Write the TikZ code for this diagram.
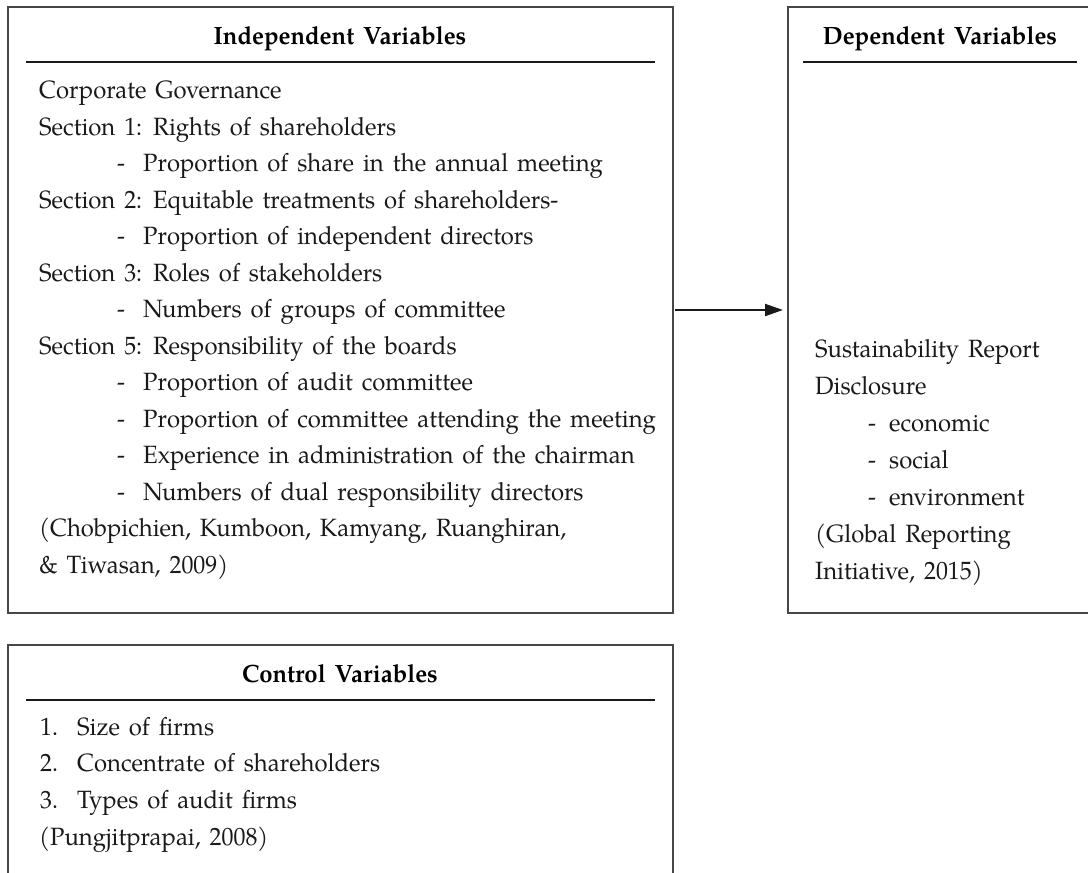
\documentclass[tikz,border=0pt]{standalone}
\usepackage{fontspec}
\setmainfont{TeX Gyre Pagella}[WordSpace=1.5,FakeStretch=0.955]
\usetikzlibrary{arrows.meta}
\begin{document}
\begin{tikzpicture}[x=1pt,y=-1pt,
  box/.style={draw=black!72, line width=1.4pt, anchor=north west, inner sep=0pt, outer sep=0pt},
  ttl/.style={font=\fontsize{25}{30}\selectfont\bfseries, anchor=base, inner sep=0pt},
  txt/.style={font=\fontsize{25}{30}\selectfont, anchor=base west, inner sep=0pt, text=black!90},
  hrule/.style={line width=1.4pt, black!90},
  arr/.style={line width=2pt, black!90, -{Triangle[length=18pt,width=12pt]}, shorten <=2pt, shorten >=5pt}]
\useasboundingbox (0,0) rectangle (1088,873);
\fill[white] (0,0) rectangle (1088,873);
% boxes
\node[box, minimum width=665pt, minimum height=606pt] (ind) at (8,7) {};
\node[box, minimum width=320pt, minimum height=606pt] (dep) at (788,7) {};
\node[box, minimum width=665pt, minimum height=260pt] (ctl) at (8,645) {};
% independent
\node[ttl] (indt) at (340,44) {Independent Variables};
\draw[hrule] (26,62) -- (655,62);
\node[txt] (l1) at (39,98) {Corporate Governance};
\node[txt] (l2) at (39,135) {Section 1: Rights of shareholders};
\node[txt] (l3) at (117,171) {\makebox[26pt][l]{-}Proportion of share in the annual meeting};
\node[txt] (l4) at (39,208) {Section 2: Equitable treatments of shareholders-};
\node[txt] (l5) at (117,244) {\makebox[26pt][l]{-}Proportion of independent directors};
\node[txt] (l6) at (39,281) {Section 3: Roles of stakeholders};
\node[txt] (l7) at (117,317) {\makebox[26pt][l]{-}Numbers of groups of committee};
\node[txt] (l8) at (39,354) {Section 5: Responsibility of the boards};
\node[txt] (l9) at (117,390) {\makebox[26pt][l]{-}Proportion of audit committee};
\node[txt] (l10) at (117,427) {\makebox[26pt][l]{-}Proportion of committee attending the meeting};
\node[txt] (l11) at (117,463) {\makebox[26pt][l]{-}Experience in administration of the chairman};
\node[txt] (l12) at (117,500) {\makebox[26pt][l]{-}Numbers of dual responsibility directors};
\node[txt] (l13) at (39,536) {(Chobpichien, Kumboon, Kamyang, Ruanghiran,};
\node[txt] (l14) at (39,573) {\& Tiwasan, 2009)};
% dependent
\node[ttl] (dept) at (940,44) {Dependent Variables};
\draw[hrule] (803,62) -- (1077,62);
\node[txt] (d1) at (815,357) {Sustainability Report};
\node[txt] (d2) at (815,394) {Disclosure};
\node[txt] (d3) at (868,431) {\makebox[21pt][l]{-}economic};
\node[txt] (d4) at (868,468) {\makebox[21pt][l]{-}social};
\node[txt] (d5) at (868,505) {\makebox[21pt][l]{-}environment};
\node[txt] (d6) at (815,542) {(Global Reporting};
\node[txt] (d7) at (815,579) {Initiative, 2015)};
% control
\node[ttl] (ctlt) at (340,682) {Control Variables};
\draw[hrule] (26,700) -- (655,700);
\node[txt] (c1) at (40,735) {\makebox[37pt][l]{1.}Size of firms};
\node[txt] (c2) at (40,771) {\makebox[37pt][l]{2.}Concentrate of shareholders};
\node[txt] (c3) at (40,808) {\makebox[37pt][l]{3.}Types of audit firms};
\node[txt] (c4) at (39,845) {(Pungjitprapai, 2008)};
% arrow
\draw[arr] (ind.east) -- (dep.west);
\end{tikzpicture}
\end{document}
